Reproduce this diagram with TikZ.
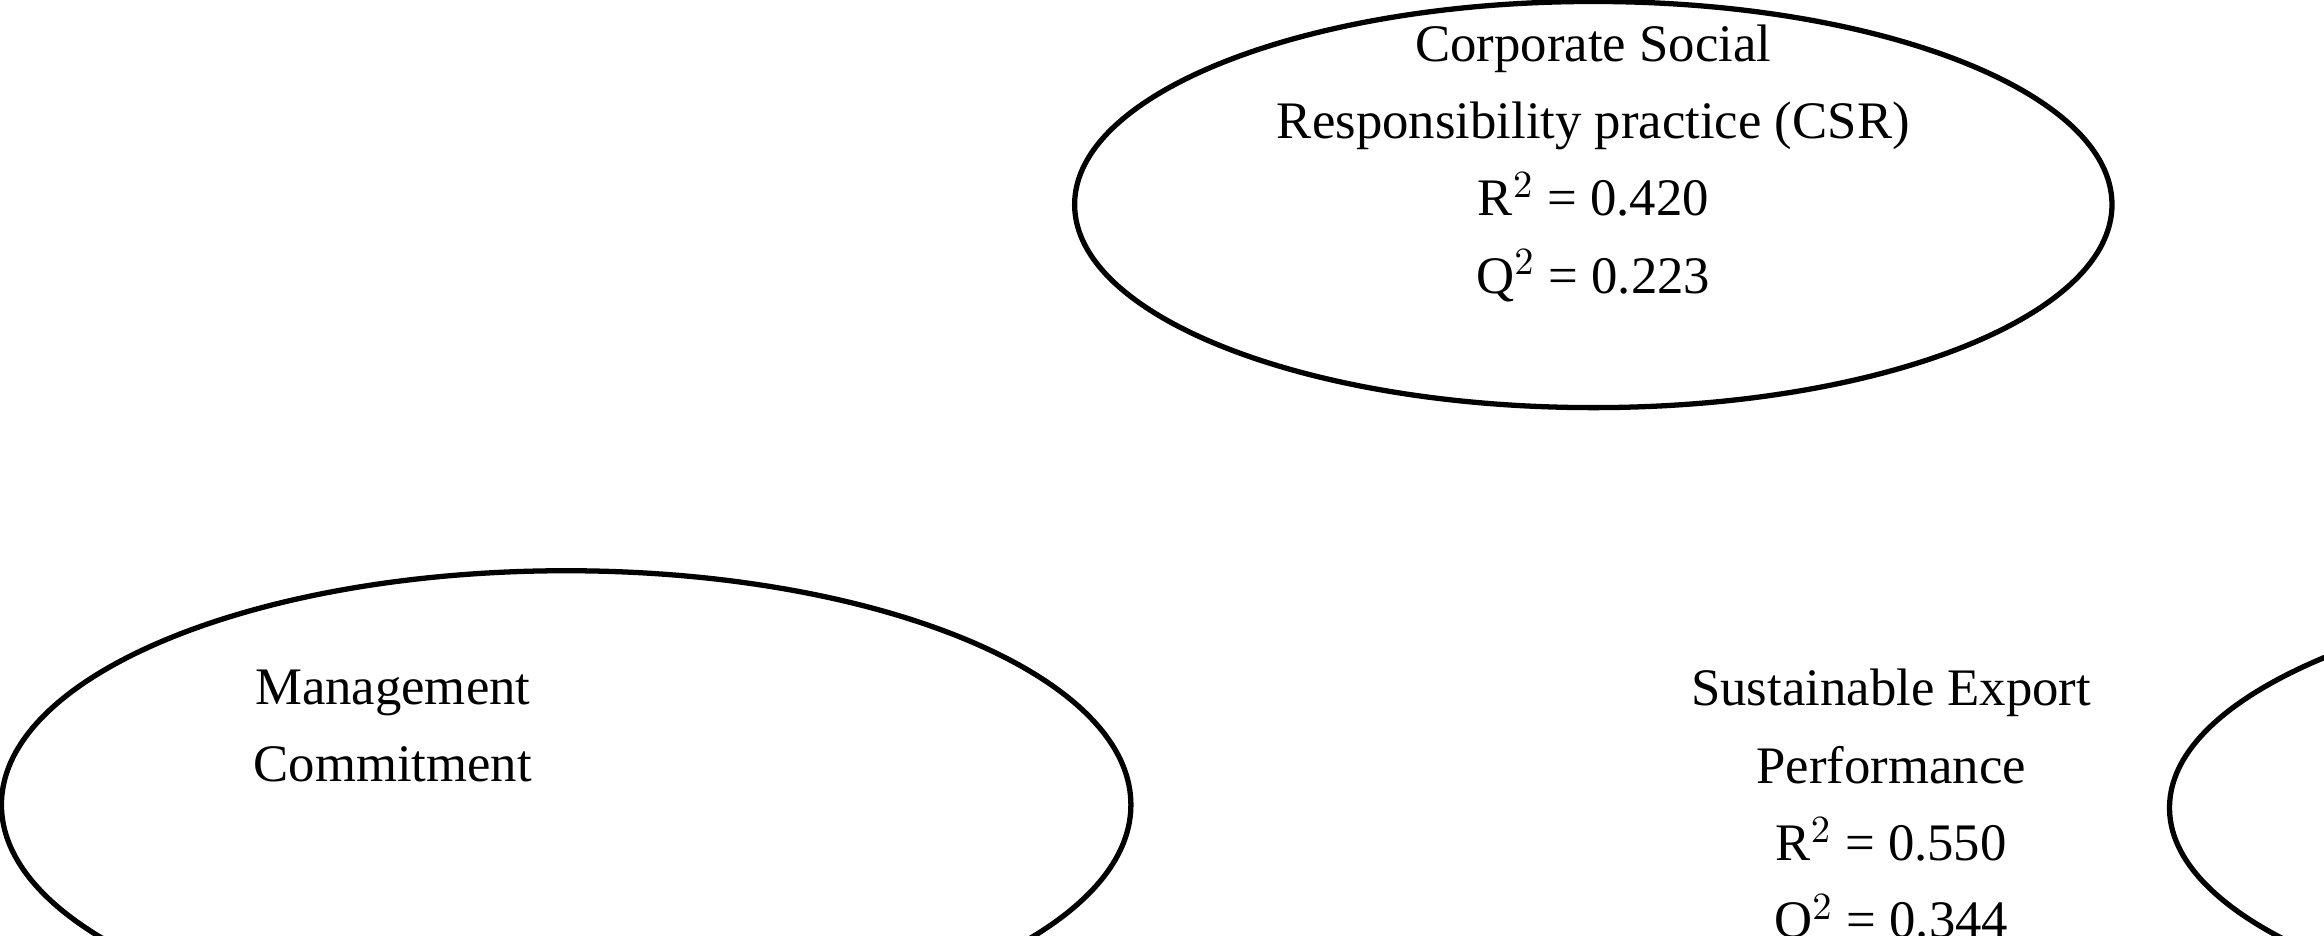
\documentclass[tikz,border=0pt]{standalone}
\usepackage{fontspec}
\setmainfont{Liberation Serif}
\usetikzlibrary{shapes.geometric,arrows.meta}
\begin{document}
\begin{tikzpicture}[x=0.014821cm,y=-0.014821cm,
  ell/.style={draw,ellipse,line width=1.5pt,inner sep=0pt},
  txt/.style={align=center,font=\fontsize{15}{22}\selectfont},
  arr/.style={-{Triangle[length=14pt,width=10pt]},line width=1.5pt}]
\useasboundingbox (0,0) rectangle (1568,631);
\node[ell,minimum width=10.37cm,minimum height=4.06cm] (csr) at (1075,138) {};
\node[txt] at (1075,110) {Corporate Social\\Responsibility practice (CSR)\\R$^2$ = 0.420\\Q$^2$ = 0.223};
\node[ell,minimum width=11.29cm,minimum height=4.68cm] (mc) at (382,543) {};
\node[txt] at (265,490) {Management\\Commitment};
\node[ell,minimum width=12.69cm,minimum height=4.59cm] (sep) at (1892,545) {};
\node[txt] at (1276,545) {Sustainable Export\\Performance\\R$^2$ = 0.550\\Q$^2$ = 0.344};
\end{tikzpicture}
\end{document}
